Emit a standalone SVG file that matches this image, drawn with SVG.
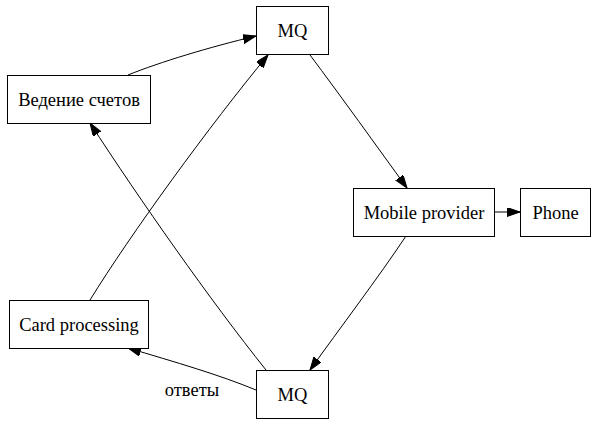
<svg xmlns="http://www.w3.org/2000/svg" width="599" height="425" viewBox="0 0 599 425">
<style>
.n rect{fill:#fff;stroke:#000;stroke-width:1}
text{font-family:'Liberation Serif','DejaVu Serif','Times New Roman',Times,serif;font-size:18.5px;fill:#000}
.n text{text-anchor:middle}
.e path{fill:none;stroke:#000;stroke-width:1;marker-end:url(#a)}
</style>
<defs>
<marker id="a" markerUnits="userSpaceOnUse" markerWidth="14" markerHeight="10" refX="13" refY="4.5" orient="auto">
<path d="M0,0 L13,4.5 L0,9 Z" fill="#000" stroke="#000" stroke-width="1"/>
</marker>
</defs>
<rect width="599" height="425" fill="#fff"/>
<g class="e" id="edges">
<path d="M128,75 C160,62 210,47 256,36"/>
<path d="M90,300 C130,235 210,125 268,55"/>
<path d="M310,55 C340,95 378,148 407,188"/>
<path d="M406,236 C378,278 340,328 310,370"/>
<path d="M266,370 C210,300 140,200 90,123"/>
<path d="M256,390 C220,375 175,362 128,348"/>
<path d="M494,212 L520,212"/>
<text x="192" y="396" text-anchor="middle">ответы</text>
</g>
<g class="n" id="mq1"><rect x="256.5" y="6.5" width="72" height="48"/><text x="292.5" y="37">MQ</text></g>
<g class="n" id="ved"><rect x="7.5" y="75.5" width="143" height="48"/><text x="79" y="106">Ведение счетов</text></g>
<g class="n" id="mobile"><rect x="353.5" y="188.5" width="141" height="48"/><text x="424" y="219">Mobile provider</text></g>
<g class="n" id="phone"><rect x="520.5" y="188.5" width="70" height="48"/><text x="555.5" y="219">Phone</text></g>
<g class="n" id="card"><rect x="9.5" y="300.5" width="139" height="48"/><text x="79" y="331">Card processing</text></g>
<g class="n" id="mq2"><rect x="256.5" y="370.5" width="72" height="48"/><text x="292.5" y="401">MQ</text></g>
</svg>
